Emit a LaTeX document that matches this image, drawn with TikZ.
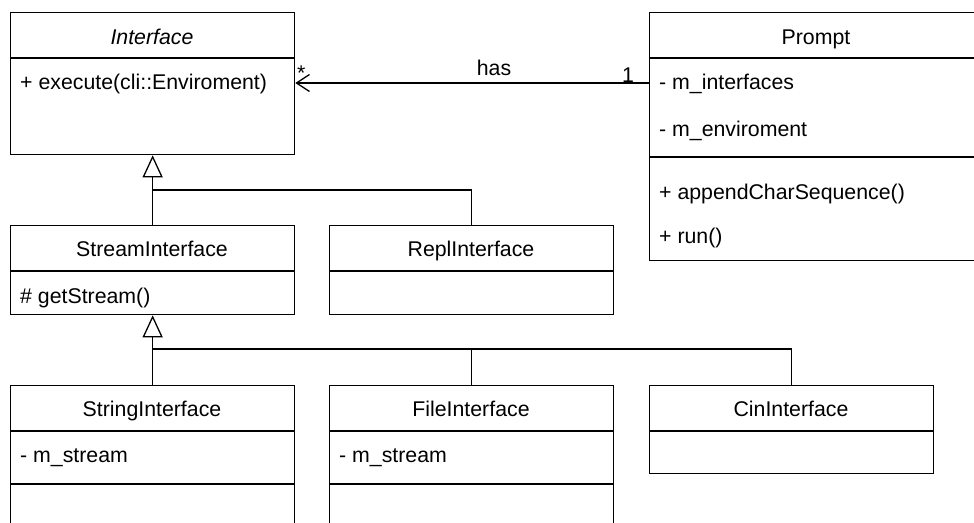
\documentclass[tikz,border=0pt]{standalone}
\usepackage{fontspec}
\setmainfont{Liberation Sans}
\usetikzlibrary{arrows.meta}
\begin{document}
\begin{tikzpicture}[x=1pt,y=-1pt,
  every node/.style={font=\fontsize{21.3}{25}\selectfont},
  classbox/.style={draw, line width=1.3pt, rectangle, anchor=north west,
    minimum width=284pt, inner sep=0pt},
  title/.style={anchor=base, inner sep=0pt},
  member/.style={anchor=base west, inner sep=0pt},
  divider/.style={line width=1.3pt},
  branch/.style={line width=1.3pt},
  gen/.style={line width=1.3pt, -{Triangle[length=22pt,width=20pt,fill=white,line width=1.3pt]}},
  assoc/.style={line width=1.3pt, -{Straight Barb[length=13pt,width=17pt,line width=1.3pt]}}
]
\useasboundingbox (0,0) rectangle (974,522);
\clip (0,0) rectangle (974,522);

% ---- classes ----
\node[classbox, minimum height=142pt] (iface) at (10,12) {};
\node[classbox, minimum width=334pt, minimum height=248pt] (prompt) at (649,12) {};
\node[classbox, minimum height=89pt] (stream) at (10,225) {};
\node[classbox, minimum height=89pt] (repl) at (329,225) {};
\node[classbox, minimum height=170pt] (string) at (10,385) {};
\node[classbox, minimum height=170pt] (file) at (329,385) {};
\node[classbox, minimum height=88pt] (cin) at (649,385) {};

% ---- compartment dividers ----
\draw[divider] (10,58) -- (294,58);
\draw[divider] (649,58) -- (983,58);
\draw[divider] (649,157) -- (983,157);
\draw[divider] (10,271) -- (294,271);
\draw[divider] (329,271) -- (613,271);
\draw[divider] (10,431) -- (294,431);
\draw[divider] (10,484) -- (294,484);
\draw[divider] (329,431) -- (613,431);
\draw[divider] (329,484) -- (613,484);
\draw[divider] (649,431) -- (933,431);

% ---- class names ----
\node[title] (ifaceT) at (152,44) {\itshape Interface};
\node[title] (promptT) at (816,44) {Prompt};
\node[title] (streamT) at (152,256) {StreamInterface};
\node[title] (replT) at (471,256) {ReplInterface};
\node[title] (stringT) at (152,416) {StringInterface};
\node[title] (fileT) at (471,416) {FileInterface};
\node[title] (cinT) at (791,416) {CinInterface};

% ---- members ----
\node[member] (ifaceM) at (20,89) {+ execute(cli::Enviroment)};
\node[member] (promptA1) at (659,89) {- m\_interfaces};
\node[member] (promptA2) at (659,136) {- m\_enviroment};
\node[member] (promptO1) at (659,199) {+ appendCharSequence()};
\node[member] (promptO2) at (659,243) {+ run()};
\node[member] (streamO) at (20,303) {\# getStream()};
\node[member] (stringA) at (20,462) {- m\_stream};
\node[member] (fileA) at (339,462) {- m\_stream};

% ---- association ----
\coordinate (hasrow) at (0,83);
\draw[assoc] (prompt.west |- hasrow) -- (iface.east |- hasrow);
\node[title] (hasL) at (494,75) {has};
\node[member] (manyL) at (297,80) {*};
\node[title] (oneL) at (628,82) {1};

% ---- generalisations ----
\coordinate (bus1) at (152,190);
\coordinate (bus2) at (152,349);
\draw[gen] (stream.north) -- (iface.south);
\draw[branch] (repl.north) |- (bus1);
\draw[gen] (string.north) -- (stream.south);
\draw[branch] (file.north) |- (bus2);
\draw[branch] (cin.north) |- (bus2);
\end{tikzpicture}
\end{document}
